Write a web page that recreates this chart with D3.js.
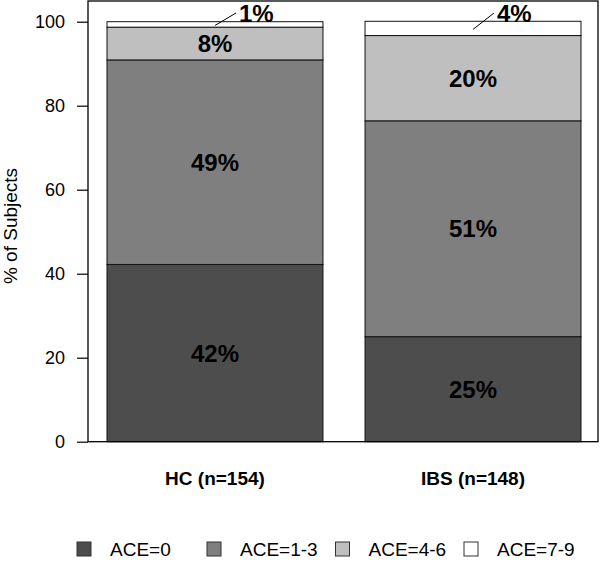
<!DOCTYPE html>
<html>
<head>
<meta charset="utf-8">
<script src="https://cdn.jsdelivr.net/npm/d3@7"></script>
<style>
body { margin: 0; background: #fff; }
svg { display: block; font-family: "Liberation Sans", Arial, Helvetica, sans-serif; }
</style>
</head>
<body>
<svg id="view" width="600" height="568"></svg>
<script>
var view = d3.select('#view');

// data
const groups = ['HC (n=154)', 'IBS (n=148)'];
const levels = ['ACE=0', 'ACE=1-3', 'ACE=4-6', 'ACE=7-9'];
const hcValues = [42.2, 48.7, 7.8, 1.3];
const ibsValues = [25.0, 51.4, 20.3, 3.4];
const hcLabels = ['42%', '49%', '8%', '1%'];
const ibsLabels = ['25%', '51%', '20%', '4%'];
const yTicks = [0, 20, 40, 60, 80, 100];
const fills = ['#4d4d4d', '#7f7f7f', '#bfbfbf', '#ffffff'];

var series = [hcValues, ibsValues];
var labels = [hcLabels, ibsLabels];

var x = d3.scaleBand().domain(groups).range([86, 602])
    .paddingInner(0.163).paddingOuter(0.0814);
var y = d3.scaleLinear().domain([0, 100]).range([441.7, 21.7]);
var color = d3.scaleOrdinal().domain(levels).range(fills);

// stacked segments
var segs = [];
groups.forEach(function(g, gi) {
    var acc = 0;
    series[gi].forEach(function(v, li) {
        segs.push({group: g, level: levels[li], y0: acc, y1: acc + v, label: labels[gi][li], top: li == levels.length - 1});
        acc += v;
    });
});

view.selectAll('rect.seg').data(segs).enter().append('rect')
    .attr('class', 'seg')
    .attr('x', d => x(d.group))
    .attr('width', x.bandwidth())
    .attr('y', d => y(d.y1))
    .attr('height', d => y(d.y0) - y(d.y1))
    .attr('fill', d => color(d.level))
    .attr('stroke', '#111')
    .attr('stroke-width', 1);

// labels inside
view.selectAll('text.inner').data(segs.filter(d => !d.top)).enter().append('text')
    .attr('class', 'inner')
    .attr('x', d => x(d.group) + x.bandwidth() / 2)
    .attr('y', d => (y(d.y0) + y(d.y1)) / 2)
    .attr('dy', '0.36em')
    .attr('text-anchor', 'middle')
    .attr('font-size', 24)
    .attr('font-weight', 'bold')
    .attr('fill', '#000')
    .text(d => d.label);

// top small segment labels with leader line
var tops = segs.filter(d => d.top);
view.selectAll('line.lead').data(tops).enter().append('line')
    .attr('class', 'lead')
    .attr('x1', d => x(d.group) + x.bandwidth() / 2)
    .attr('y1', d => (y(d.y0) + y(d.y1)) / 2 + 1)
    .attr('x2', d => x(d.group) + x.bandwidth() / 2 + 21)
    .attr('y2', 13)
    .attr('stroke', '#000')
    .attr('stroke-width', 1);
view.selectAll('text.outer').data(tops).enter().append('text')
    .attr('class', 'outer')
    .attr('x', d => x(d.group) + x.bandwidth() / 2 + 24)
    .attr('y', 21.5)
    .attr('font-size', 24)
    .attr('font-weight', 'bold')
    .text(d => d.label);

// box
view.append('rect')
    .attr('x', 88).attr('y', 1)
    .attr('width', 510).attr('height', 440.7)
    .attr('fill', 'none')
    .attr('stroke', '#000')
    .attr('stroke-width', 1.3);

// y axis
var yAxis = view.append('g')
    .attr('transform', 'translate(88,0)')
    .call(d3.axisLeft(y).tickValues(yTicks).tickSize(11).tickPadding(12));
yAxis.select('.domain').remove();
yAxis.selectAll('line').attr('stroke', '#000').attr('stroke-width', 1.2);
yAxis.selectAll('text').attr('font-size', 18).attr('fill', '#000')
    .attr('font-family', '"Liberation Sans", Arial, sans-serif');

view.append('text')
    .attr('transform', 'translate(17,226) rotate(-90)')
    .attr('text-anchor', 'middle')
    .attr('font-size', 19)
    .text('% of Subjects');

// x labels
view.selectAll('text.xlab').data(groups).enter().append('text')
    .attr('class', 'xlab')
    .attr('x', g => x(g) + x.bandwidth() / 2)
    .attr('y', 485)
    .attr('text-anchor', 'middle')
    .attr('font-size', 19)
    .attr('font-weight', 'bold')
    .text(g => g);

// legend
var legX = [77, 207, 335.5, 464];
var leg = view.selectAll('g.leg').data(levels).enter().append('g')
    .attr('class', 'leg')
    .attr('transform', (d, i) => 'translate(' + legX[i] + ',549)');
leg.append('rect')
    .attr('x', 0).attr('y', -7)
    .attr('width', 14).attr('height', 14)
    .attr('fill', d => color(d))
    .attr('stroke', '#333')
    .attr('stroke-width', 1);
leg.append('text')
    .attr('x', 33)
    .attr('dy', '0.36em')
    .attr('font-size', 19)
    .text(d => d);
</script>
</body>
</html>
